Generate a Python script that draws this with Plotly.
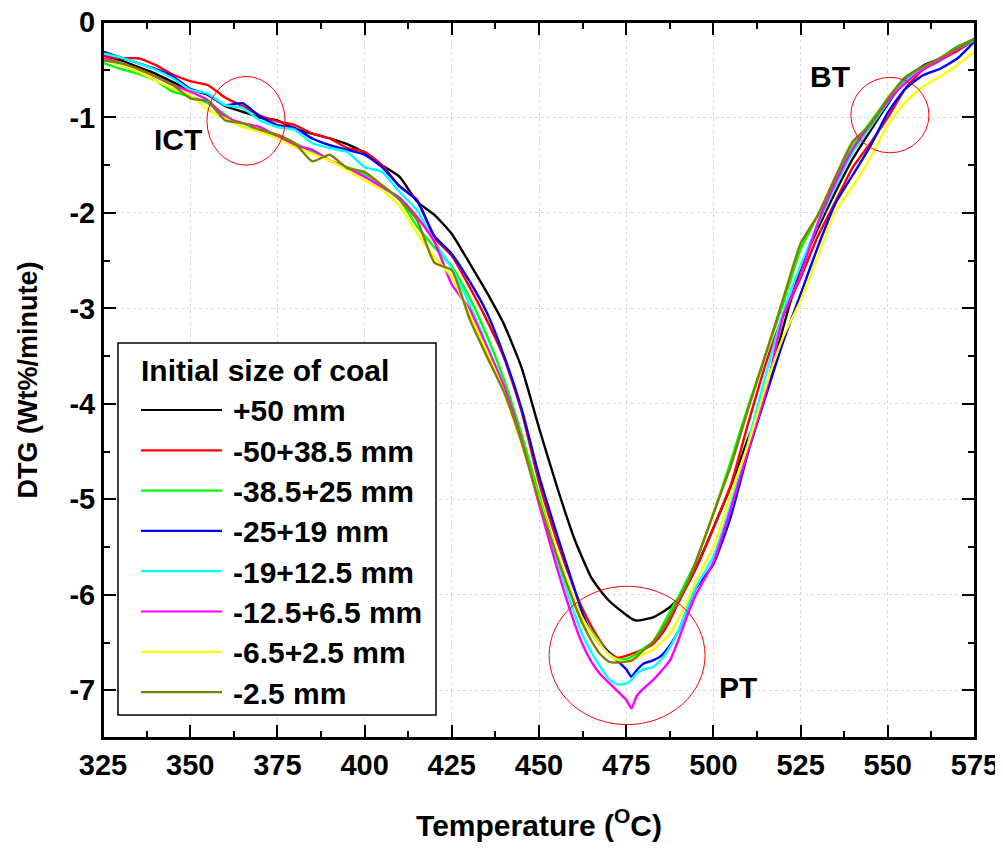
import plotly.graph_objects as go

# ---------------- data ----------------
temperature = [325, 330, 335, 340, 345, 350, 355, 360, 365, 370, 375, 380, 385, 390, 395, 400,
               405, 410, 415, 420, 425, 430, 435, 440, 445, 450, 455, 460,
               462.5, 465, 467.5, 470, 472.5, 475, 476.5, 478, 480, 482.5, 485, 487.5, 490, 492.5, 495,
               500, 505, 510, 515, 520, 525, 530, 535, 540, 545, 550, 555, 560, 565, 570, 575]

dtg_p50 = [-0.35, -0.40, -0.47, -0.54, -0.63, -0.71, -0.76, -0.88, -0.94, -1.00, -1.03, -1.12, -1.17, -1.22, -1.28, -1.37,
           -1.50, -1.62, -1.88, -2.02, -2.22, -2.52, -2.83, -3.17, -3.62, -4.25, -4.85, -5.40,
           -5.62, -5.82, -5.95, -6.06, -6.14, -6.21, -6.25, -6.27, -6.26, -6.24, -6.19, -6.13, -6.04, -5.90, -5.72,
           -5.30, -4.86, -4.36, -3.90, -3.20, -2.58, -2.16, -1.78, -1.43, -1.14, -0.86, -0.60, -0.46, -0.38, -0.26, -0.18]

dtg_m50_p385 = [-0.35, -0.38, -0.38, -0.45, -0.55, -0.62, -0.66, -0.79, -0.88, -0.98, -1.04, -1.08, -1.17, -1.22, -1.32, -1.36,
                -1.50, -1.72, -1.86, -2.26, -2.45, -2.77, -3.12, -3.52, -4.08, -4.82, -5.42, -5.93,
                -6.15, -6.33, -6.48, -6.60, -6.66, -6.64, -6.62, -6.60, -6.57, -6.52, -6.42, -6.27, -6.08, -5.90, -5.72,
                -5.30, -4.85, -4.20, -3.58, -3.08, -2.68, -2.24, -1.88, -1.52, -1.27, -1.00, -0.70, -0.50, -0.40, -0.30, -0.19]

dtg_m385_p25 = [-0.43, -0.49, -0.54, -0.61, -0.73, -0.78, -0.85, -0.97, -1.10, -1.13, -1.20, -1.27, -1.36, -1.45, -1.52, -1.59,
                -1.71, -1.86, -2.14, -2.36, -2.56, -2.88, -3.28, -3.75, -4.32, -4.95, -5.55, -6.05,
                -6.25, -6.38, -6.50, -6.62, -6.68, -6.67, -6.65, -6.62, -6.56, -6.50, -6.35, -6.18, -6.02, -5.84, -5.65,
                -5.15, -4.60, -4.02, -3.48, -2.95, -2.38, -2.02, -1.63, -1.30, -1.05, -0.80, -0.58, -0.47, -0.38, -0.26, -0.17]

dtg_m25_p19 = [-0.31, -0.37, -0.43, -0.49, -0.57, -0.70, -0.76, -0.87, -0.85, -0.99, -1.08, -1.11, -1.22, -1.29, -1.34, -1.39,
               -1.52, -1.72, -1.87, -2.24, -2.43, -2.71, -3.04, -3.50, -4.05, -4.75, -5.35, -5.92,
               -6.20, -6.40, -6.52, -6.60, -6.69, -6.78, -6.86, -6.79, -6.72, -6.69, -6.64, -6.53, -6.38, -6.15, -5.93,
               -5.68, -5.18, -4.50, -3.92, -3.35, -2.85, -2.35, -1.90, -1.60, -1.30, -0.95, -0.70, -0.56, -0.49, -0.38, -0.20]

dtg_m19_p125 = [-0.33, -0.37, -0.43, -0.50, -0.59, -0.71, -0.75, -0.87, -0.90, -1.03, -1.10, -1.13, -1.27, -1.32, -1.36, -1.52,
                -1.57, -1.78, -1.97, -2.30, -2.58, -2.95, -3.38, -3.82, -4.40, -5.02, -5.62, -6.18,
                -6.42, -6.60, -6.75, -6.88, -6.94, -6.93, -6.89, -6.82, -6.78, -6.76, -6.68, -6.55, -6.38, -6.14, -5.92,
                -5.60, -5.05, -4.40, -3.70, -3.05, -2.55, -2.12, -1.72, -1.36, -1.10, -0.84, -0.62, -0.48, -0.38, -0.28, -0.19]

dtg_m125_p65 = [-0.38, -0.43, -0.49, -0.57, -0.66, -0.73, -0.82, -0.99, -1.06, -1.10, -1.20, -1.29, -1.34, -1.45, -1.53, -1.62,
                -1.73, -1.84, -2.04, -2.30, -2.75, -3.00, -3.40, -3.82, -4.38, -5.05, -5.70, -6.28,
                -6.52, -6.70, -6.83, -6.92, -7.01, -7.10, -7.19, -7.06, -6.98, -6.90, -6.80, -6.69, -6.47, -6.22, -6.00,
                -5.66, -5.10, -4.48, -3.88, -3.08, -2.65, -2.10, -1.68, -1.33, -1.07, -0.83, -0.64, -0.50, -0.40, -0.28, -0.18]

dtg_m65_p25 = [-0.40, -0.45, -0.52, -0.61, -0.70, -0.76, -0.92, -1.01, -1.10, -1.15, -1.22, -1.31, -1.38, -1.45, -1.55, -1.66,
               -1.76, -1.93, -2.21, -2.46, -2.67, -3.05, -3.45, -3.88, -4.42, -5.00, -5.55, -6.05,
               -6.25, -6.40, -6.52, -6.62, -6.68, -6.70, -6.69, -6.66, -6.62, -6.58, -6.50, -6.41, -6.25, -6.07, -5.85,
               -5.50, -4.95, -4.42, -3.82, -3.30, -2.92, -2.45, -1.98, -1.72, -1.42, -1.08, -0.84, -0.68, -0.57, -0.45, -0.30]

dtg_m25 = [-0.40, -0.43, -0.49, -0.57, -0.66, -0.80, -0.83, -1.03, -1.06, -1.13, -1.18, -1.27, -1.46, -1.39, -1.53, -1.57,
           -1.71, -1.86, -2.07, -2.52, -2.60, -3.10, -3.50, -3.88, -4.40, -5.02, -5.58, -6.08,
           -6.30, -6.48, -6.62, -6.70, -6.71, -6.70, -6.69, -6.65, -6.58, -6.50, -6.38, -6.23, -6.05, -5.88, -5.65,
           -5.15, -4.65, -4.05, -3.48, -2.90, -2.32, -2.02, -1.62, -1.25, -1.08, -0.80, -0.58, -0.47, -0.38, -0.27, -0.18]

series_names = ["+50 mm", "-50+38.5 mm", "-38.5+25 mm", "-25+19 mm",
                "-19+12.5 mm", "-12.5+6.5 mm", "-6.5+2.5 mm", "-2.5 mm"]
series_values = [dtg_p50, dtg_m50_p385, dtg_m385_p25, dtg_m25_p19,
                 dtg_m19_p125, dtg_m125_p65, dtg_m65_p25, dtg_m25]
series_colors = ["#000000", "#FF0000", "#00FF00", "#0000FF",
                 "#00FFFF", "#FF00FF", "#FFFF00", "#808000"]

legend_title = "Initial size of coal"
x_ticks = [325, 350, 375, 400, 425, 450, 475, 500, 525, 550, 575]
y_ticks = [0, -1, -2, -3, -4, -5, -6, -7]

# region markers: (label, label_x, label_y, circle x0, x1, y0, y1)
regions = [("ICT", 346.6, -1.23, 354.8, 377.2, -0.57, -1.50),
           ("BT", 533.5, -0.57, 539.4, 561.8, -0.58, -1.37),
           ("PT", 507.0, -6.97, 452.9, 497.6, -5.91, -7.36)]

# ---------------- figure ----------------
FONT = "Liberation Sans, Arial, Helvetica, sans-serif"
OFF = 8                      # page body margin offset of the figure in the browser
W, H = 995, 834
ML, MR, MT, MB = 95, 28, 14, 104
PW, PH = W - ML - MR, H - MT - MB


def xp(px):   # screen pixel -> paper fraction
    return (px - OFF - ML) / PW


def yp(py):
    return (H - MB - (py - OFF)) / PH


fig = go.Figure()
for name, color, vals in zip(series_names, series_colors, series_values):
    fig.add_trace(go.Scatter(x=temperature, y=vals, mode="lines", name=name,
                             line=dict(color=color, width=2.4, shape="spline", smoothing=0.5),
                             showlegend=False))

shapes = []
annotations = []

# plot frame
shapes.append(dict(type="rect", xref="paper", yref="paper", x0=0, x1=1, y0=0, y1=1,
                   line=dict(color="black", width=2), layer="above"))

# circles + labels
for lab, lx, ly, cx0, cx1, cy0, cy1 in regions:
    shapes.append(dict(type="circle", xref="x", yref="y", x0=cx0, x1=cx1, y0=cy0, y1=cy1,
                       line=dict(color="#FF0000", width=1)))
    annotations.append(dict(x=lx, y=ly, xref="x", yref="y", text=lab, showarrow=False,
                            font=dict(family=FONT, size=30, color="black", weight="bold")))

# legend box (drawn manually to match the long sample lines)
shapes.append(dict(type="rect", xref="paper", yref="paper", x0=xp(118), x1=xp(436), y0=yp(715), y1=yp(343),
                   line=dict(color="black", width=1.5), fillcolor="white", layer="above"))
annotations.append(dict(x=xp(139), y=yp(370), xref="paper", yref="paper", text=legend_title,
                        showarrow=False, xanchor="left", yanchor="middle",
                        font=dict(family=FONT, size=30, color="black", weight="bold")))
row0, row_step = 410, 40.3
for i, (name, color) in enumerate(zip(series_names, series_colors)):
    ry = row0 + i * row_step
    shapes.append(dict(type="line", xref="paper", yref="paper", x0=xp(141), x1=xp(222), y0=yp(ry), y1=yp(ry),
                       line=dict(color=color, width=2.2), layer="above"))
    annotations.append(dict(x=xp(231), y=yp(ry + 1), xref="paper", yref="paper", text=name,
                            showarrow=False, xanchor="left", yanchor="middle",
                            font=dict(family=FONT, size=30, color="black", weight="bold")))

axis_common = dict(showline=True, linecolor="black", linewidth=2, mirror="allticks",
                   ticks="inside", ticklen=13, tickwidth=2, tickcolor="black",
                   showgrid=True, gridcolor="#d9d9d9", griddash="dot", gridwidth=1,
                   zeroline=False, automargin=False, ticklabeloverflow="allow",
                   tickfont=dict(family=FONT, size=29, color="black", weight="bold"))

fig.update_layout(
    width=W, height=H,
    margin=dict(l=ML, r=MR, t=MT, b=MB),
    paper_bgcolor="white", plot_bgcolor="white",
    shapes=shapes, annotations=annotations,
    xaxis=dict(range=[325, 575], tickvals=x_ticks, ticktext=[str(v) for v in x_ticks],
               minor=dict(ticks="inside", ticklen=7, tickwidth=2, dtick=12.5, tickcolor="black", showgrid=False),
               title=dict(text="Temperature (<sup>O</sup>C)", standoff=38,
                          font=dict(family=FONT, size=30, color="black", weight="bold")),
               **axis_common),
    yaxis=dict(range=[-7.5, 0], tickvals=y_ticks, ticktext=[str(v) for v in y_ticks],
               minor=dict(ticks="inside", ticklen=7, tickwidth=2, dtick=0.5, tickcolor="black", showgrid=False),
               title=dict(text="DTG (Wt%/minute)", standoff=24,
                          font=dict(family=FONT, size=27, color="black", weight="bold")),
               **axis_common),
    showlegend=False,
)

fig.write_html("out.html")
